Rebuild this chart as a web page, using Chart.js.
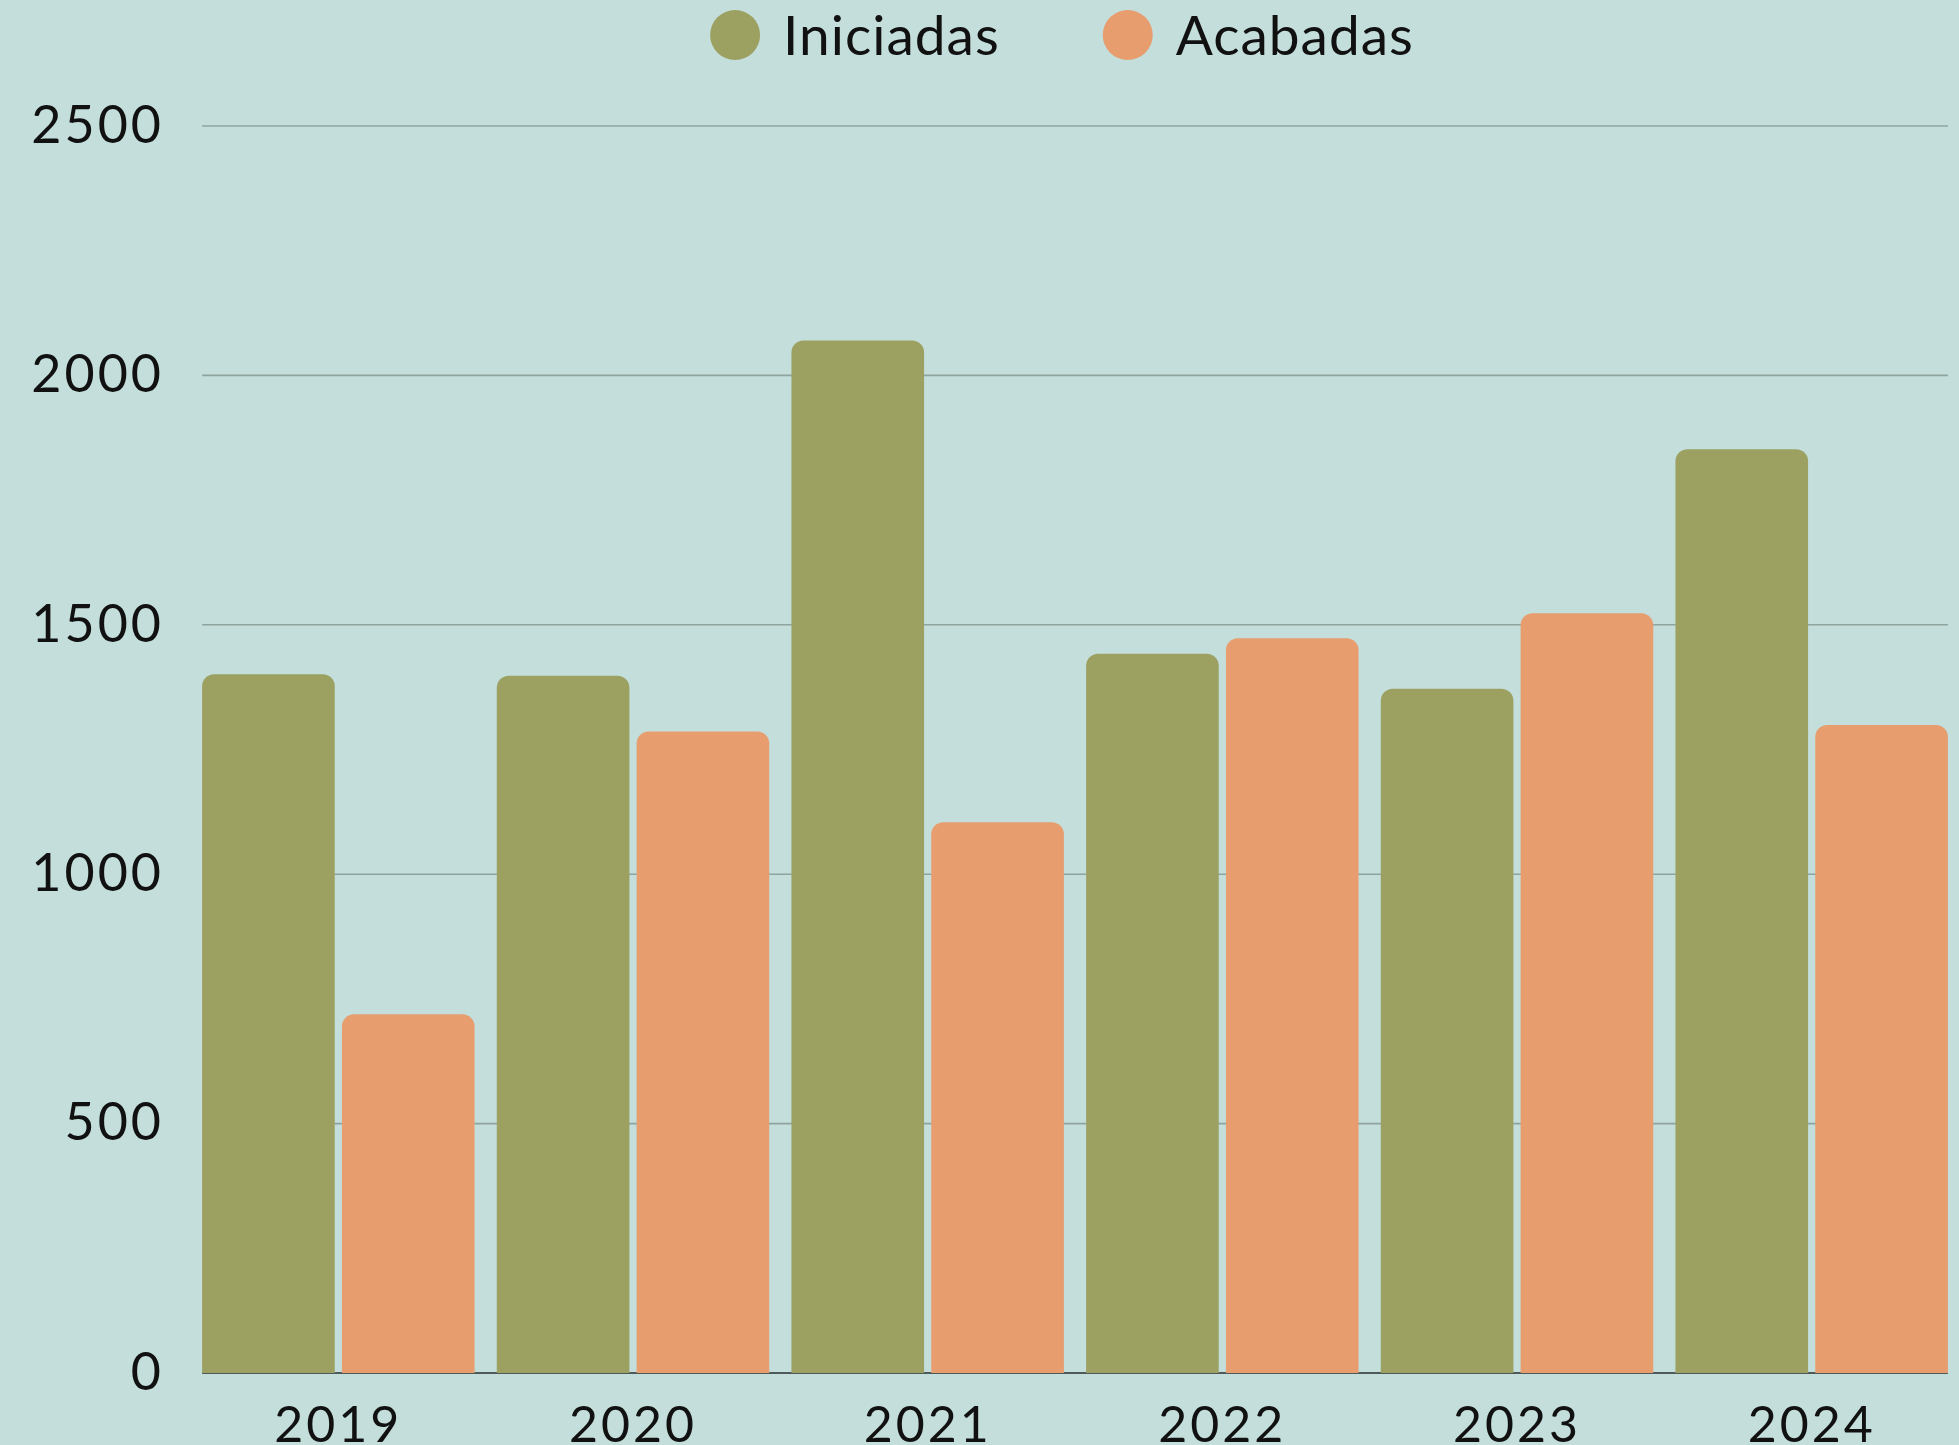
<!DOCTYPE html>
<html>
<head>
<meta charset="utf-8">
<script src="https://cdn.jsdelivr.net/npm/chart.js@4.4.1/dist/chart.umd.min.js"></script>
<style>
  html, body { margin: 0; padding: 0; background: #c3dedb; }
  #wrap { width: 1959px; height: 1445px; position: relative; }
  canvas { display: block; }
</style>
</head>
<body>
<div id="wrap"><canvas id="c" width="1959" height="1445"></canvas></div>
<script>
const categories = ['2019', '2020', '2021', '2022', '2023', '2024'];
const iniciadas = [1401, 1398, 2070, 1442, 1372, 1852];
const acabadas = [719, 1286, 1104, 1473, 1523, 1299];
const seriesNames = ['Iniciadas', 'Acabadas'];
const yTicks = [0, 500, 1000, 1500, 2000, 2500];
const yTickLabels = ['0', '500', '1000', '1500', '2000', '2500'];

const GREEN = '#9ca162';
const ORANGE = '#e89d6e';
const BG = '#c3dedb';
const FONT = 'Lato, "Noto Sans", sans-serif';

const bgPlugin = {
  id: 'bg',
  beforeDraw(chart) {
    const ctx = chart.ctx;
    ctx.fillStyle = BG;
    ctx.fillRect(0, 0, chart.width, chart.height);
    if ('letterSpacing' in ctx) ctx.letterSpacing = '3px';
  }
};

const gridPlugin = {
  id: 'customGrid',
  beforeDatasetsDraw(chart) {
    const ctx = chart.ctx;
    const y = chart.scales.y;
    const m0 = chart.getDatasetMeta(0).data;
    const m1 = chart.getDatasetMeta(1).data;
    const first = m0[0], last = m1[m1.length - 1];
    const left = first.x - first.width / 2;
    const right = last.x + last.width / 2;
    ctx.save();
    yTicks.forEach(v => {
      const py = y.getPixelForValue(v);
      ctx.beginPath();
      if (v === 0) {
        ctx.strokeStyle = '#4e5a59';
        ctx.lineWidth = 2.2;
      } else {
        ctx.strokeStyle = '#8fa49f';
        ctx.lineWidth = 1.6;
      }
      ctx.moveTo(left, py);
      ctx.lineTo(right, py);
      ctx.stroke();
    });
    ctx.restore();
  }
};

const legendPlugin = {
  id: 'customLegend',
  afterDraw(chart) {
    const ctx = chart.ctx;
    ctx.save();
    ctx.font = '55px ' + FONT;
    if ('letterSpacing' in ctx) ctx.letterSpacing = '1px';
    ctx.textBaseline = 'middle';
    ctx.textAlign = 'left';
    const r = 25, gapText = 23, gapItem = 103;
    const items = chart.data.datasets.map(ds => ({ text: ds.label, color: ds.backgroundColor, w: ctx.measureText(ds.label).width }));
    let total = 0;
    items.forEach((it, i) => { total += 2 * r + gapText + it.w + (i < items.length - 1 ? gapItem : 0); });
    let x = 1062 - total / 2;
    const cy = 35;
    items.forEach(it => {
      ctx.beginPath();
      ctx.fillStyle = it.color;
      ctx.arc(x + r, cy, r, 0, Math.PI * 2);
      ctx.fill();
      ctx.fillStyle = '#111111';
      ctx.fillText(it.text, x + 2 * r + gapText, cy + 2);
      x += 2 * r + gapText + it.w + gapItem;
    });
    ctx.restore();
  }
};

new Chart(document.getElementById('c'), {
  type: 'bar',
  data: {
    labels: categories,
    datasets: [
      { label: seriesNames[0], data: iniciadas, backgroundColor: GREEN, borderRadius: 12, borderSkipped: 'start', categoryPercentage: 0.949, barPercentage: 0.9485 },
      { label: seriesNames[1], data: acabadas, backgroundColor: ORANGE, borderRadius: 12, borderSkipped: 'start', categoryPercentage: 0.949, barPercentage: 0.9485 }
    ]
  },
  options: {
    responsive: false,
    animation: false,
    devicePixelRatio: 1,
    layout: { padding: { top: 126, left: 0, right: 0, bottom: 0 } },
    plugins: {
      legend: { display: false },
      tooltip: { enabled: false }
    },
    scales: {
      x: {
        grid: { display: false },
        border: { display: false },
        ticks: { font: { family: FONT, size: 50, lineHeight: 1 }, color: '#111111', padding: 20, maxRotation: 0 },
        afterFit(scale) { scale.height = 72; }
      },
      y: {
        min: 0, max: 2500,
        grid: { display: false },
        border: { display: false },
        ticks: {
          stepSize: 500,
          font: { family: FONT, size: 52, lineHeight: 1 },
          color: '#111111',
          padding: 19,
          callback: (value) => {
            const i = yTicks.indexOf(value);
            return i >= 0 ? yTickLabels[i] : '';
          }
        },
        afterFit(scale) { scale.width = 191; }
      }
    }
  },
  plugins: [bgPlugin, gridPlugin, legendPlugin]
});
</script>
</body>
</html>
